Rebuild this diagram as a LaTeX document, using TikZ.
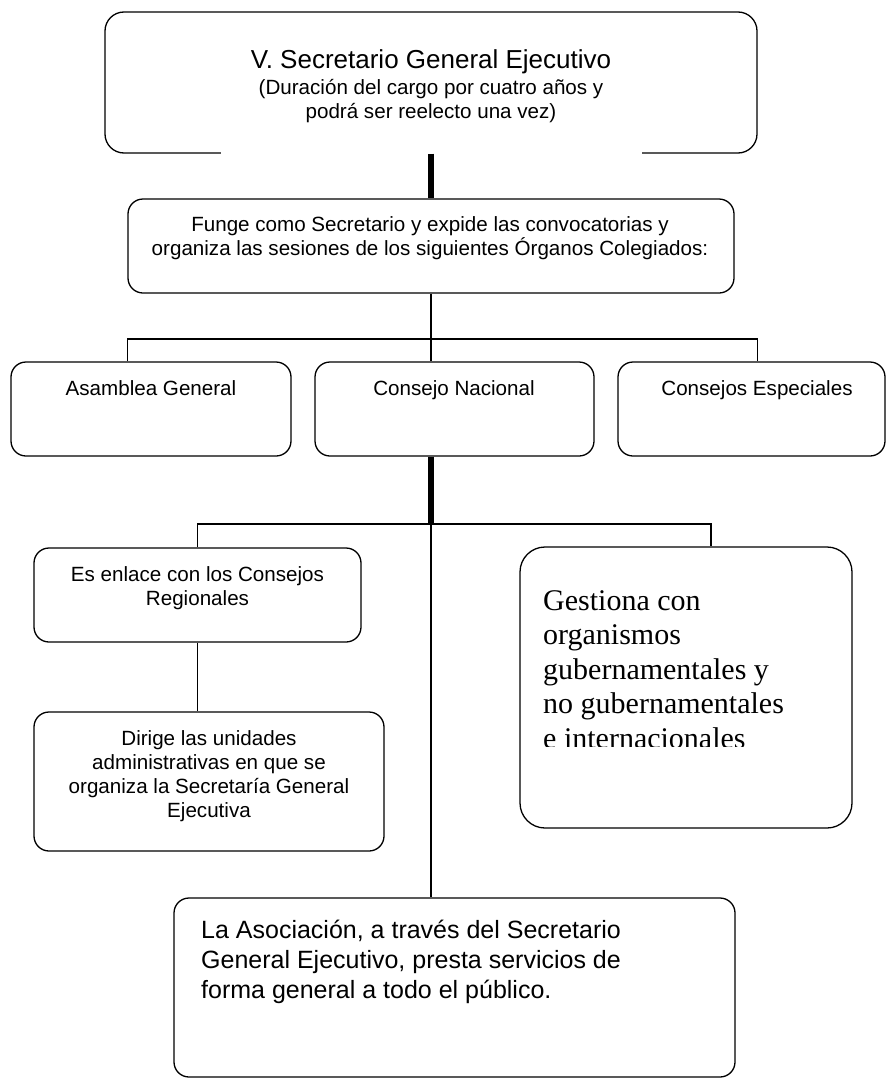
\documentclass[tikz,border=0pt]{standalone}
\usepackage{fontspec}
\setmainfont{Liberation Sans}
\newfontfamily\timesfont{Liberation Serif}

\tikzset{
  box/.style={draw, rounded corners=15pt, line width=1.3pt, inner sep=0pt},
  link/.style={line width=1.3pt},
  thicklink/.style={line width=6.5pt},
  txt/.style={font=\fontsize{20.6}{23.7}\selectfont, align=center, anchor=base, inner sep=0pt},
}

\begin{document}
\begin{tikzpicture}[x=1pt,y=-1pt]
  \useasboundingbox (0,0) rectangle (886,1079);
  % Top (text nodes sit on the baseline of their last line)
  \node[box, minimum width=652, minimum height=141, rounded corners=19pt] (sge) at (431,82.5) {};
  \draw[white, line width=2.6pt] ([xshift=-210]sge.south) -- ([xshift=211]sge.south);
  \node[txt, font=\fontsize{26}{30}\selectfont] (sgetitle) at (431,68) {V. Secretario General Ejecutivo};
  \node[txt] (sgesub) at (431,118) {(Duración del cargo por cuatro años y\\podrá ser reelecto una vez)};
  \node[box, minimum width=606, minimum height=94] (funge) at (431,246) {};
  \node[txt] (fungetxt) at (430,255) {Funge como Secretario y expide las convocatorias y\\organiza las sesiones de los siguientes Órganos Colegiados:};
  \draw[thicklink] (sge.south) -- (funge.north);
  % Organos colegiados
  \node[box, minimum width=280, minimum height=94] (asamblea) at (151,409) {};
  \node[box, minimum width=279, minimum height=94] (nacional) at (454.5,409) {};
  \node[box, minimum width=267, minimum height=94] (especiales) at (751.5,409) {};
  \node[txt] (asambleatxt) at (151,395) {Asamblea General};
  \node[txt] (nacionaltxt) at (454,395) {Consejo Nacional};
  \node[txt] (especialestxt) at (757,395) {Consejos Especiales};
  \coordinate (bus1) at (431,339);
  \draw[link] (funge.south) -- (funge.south |- nacional.north);
  \draw[link] (funge.west |- asamblea.north) |- (bus1) -| (sge.east |- especiales.north);
  % Consejo Nacional
  \node[box, minimum width=327, minimum height=94] (enlace) at (197.5,595) {};
  \node[txt] (enlacetxt) at (197.5,605) {Es enlace con los Consejos\\Regionales};
  \node[box, minimum width=350, minimum height=139] (dirige) at (209,781.5) {};
  \node[txt] (dirigetxt) at (209,817) {Dirige las unidades\\administrativas en que se\\organiza la Secretaría General\\Ejecutiva};
  \node[box, minimum width=332, minimum height=281, rounded corners=25pt] (gestiona) at (686,687.5) {};
  \begin{scope}
    \clip (522,560) rectangle (850,746);
    \node[anchor=base west, align=left, inner sep=0pt, font=\timesfont\fontsize{30}{34.5}\selectfont] (gestionatxt) at (543,748) {Gestiona con\\organismos\\gubernamentales y\\no gubernamentales\\e internacionales};
  \end{scope}
  \node[box, minimum width=561, minimum height=179] (asociacion) at (454.5,987.5) {};
  \node[anchor=base west, align=left, inner sep=0pt, font=\fontsize{25}{29.6}\selectfont] (asociaciontxt) at (201,998) {La Asociación, a través del Secretario\\General Ejecutivo, presta servicios de\\forma general a todo el público.};
  \coordinate (bus2) at (431,524);
  \draw[thicklink] (nacional.south -| bus2) -- (bus2);
  \draw[link] (enlace.north) |- (bus2) -| ([xshift=25]gestiona.north);
  \draw[link] (bus2) -- (bus2 |- asociacion.north);
  \draw[link] (enlace.south) -- (enlace.south |- dirige.north);
\end{tikzpicture}
\end{document}
